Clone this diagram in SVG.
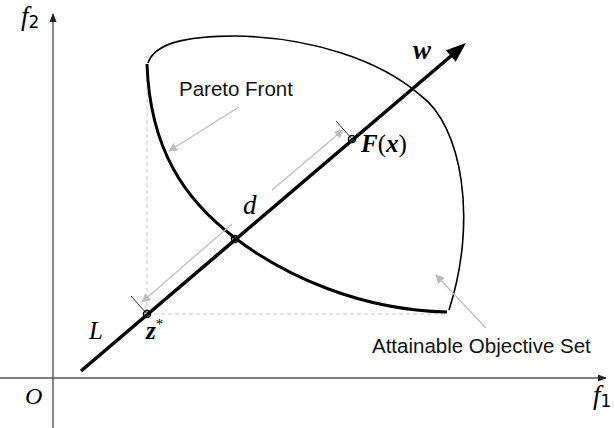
<svg xmlns="http://www.w3.org/2000/svg" width="615" height="428" viewBox="0 0 615 428">
<style>
.axis{stroke:#555;stroke-width:1.4;fill:none}
.dash{stroke:#c8c8c8;stroke-width:1;stroke-dasharray:4,3;fill:none}
.dim{stroke:#bdbdbd;stroke-width:1.2;fill:none;marker-end:url(#ga)}
.tick{stroke:#333;stroke-width:1;fill:none}
.pt{fill:none;stroke:#000;stroke-width:1.5}
.math{font-family:"Liberation Serif","DejaVu Serif",serif;font-style:italic;fill:#000}
.lab{font-family:"Liberation Sans",Arial,sans-serif;font-size:20.5px;fill:#111}
</style>
<defs>
<marker id="ga" viewBox="0 0 10 10" refX="9" refY="5" markerWidth="9" markerHeight="9" markerUnits="userSpaceOnUse" orient="auto"><path d="M0,0 L10,5 L0,10 z" fill="#bdbdbd"/></marker>
<marker id="ka" viewBox="0 0 10 10" refX="9" refY="5" markerWidth="9" markerHeight="9" markerUnits="userSpaceOnUse" orient="auto"><path d="M0,1 L10,5 L0,9 z" fill="#222"/></marker>
</defs>
<g id="axes">
<line class="axis" x1="53" y1="428" x2="53" y2="14" marker-end="url(#ka)"/>
<line class="axis" x1="0" y1="378" x2="606" y2="378" marker-end="url(#ka)"/>
<text class="math" x="21" y="25" font-size="27">f<tspan font-style="normal" font-family="'DejaVu Sans',sans-serif" font-size="17" dy="3">2</tspan></text>
<text class="math" x="593" y="404" font-size="27">f<tspan font-style="normal" font-family="'DejaVu Sans',sans-serif" font-size="17" dy="3">1</tspan></text>
<text class="math" x="25" y="404" font-size="24">O</text>
</g>
<g id="guides">
<line class="dash" x1="147" y1="64" x2="147" y2="314"/>
<line class="dash" x1="147" y1="314" x2="447" y2="314"/>
</g>
<g id="attainable-set">
<path d="M148,63 C155,42 190,36 235,36 C310,37 380,60 420,95 C462,125 478,220 449,310" fill="none" stroke="#000" stroke-width="1.6"/>
</g>
<g id="pareto-front">
<path d="M147,64 C150,150 185,200 235,238 C285,276 360,310 447,312" fill="none" stroke="#000" stroke-width="3"/>
</g>
<g id="line-L">
<line x1="81" y1="371" x2="451" y2="56" stroke="#000" stroke-width="3.5"/>
<polygon points="466,43 445.9,50.3 455.7,61.7" fill="#000"/>
</g>
<g id="connectors">
<line class="tick" x1="147" y1="314" x2="131" y2="296"/>
<line class="tick" x1="352" y1="139" x2="336" y2="121"/>
<line class="dim" x1="232" y1="224" x2="142" y2="302"/>
<line class="dim" x1="272" y1="190" x2="343" y2="130"/>
<line class="dim" x1="239" y1="107" x2="169" y2="151"/>
<line class="dim" x1="486" y1="328" x2="436" y2="275"/>
</g>
<g id="points">
<circle class="pt" cx="147" cy="314" r="3.5"/>
<circle class="pt" cx="235" cy="239" r="3.5"/>
<circle class="pt" cx="352" cy="139" r="3.5"/>
</g>
<g id="labels">
<text class="lab" x="179" y="96">Pareto Front</text>
<text class="lab" x="372" y="353">Attainable Objective Set</text>
<text class="math" x="413" y="59" font-size="27" font-weight="bold">w</text>
<text class="math" x="361" y="152" font-size="25"><tspan font-weight="bold">F</tspan><tspan font-style="normal">(</tspan><tspan font-weight="bold">x</tspan><tspan font-style="normal">)</tspan></text>
<text class="math" x="243" y="214" font-size="27">d</text>
<text class="math" x="89" y="339" font-size="25">L</text>
<text class="math" x="146" y="339" font-size="25" font-weight="bold">z<tspan font-size="15" font-weight="normal" font-style="normal" dy="-10">*</tspan></text>
</g>
</svg>
